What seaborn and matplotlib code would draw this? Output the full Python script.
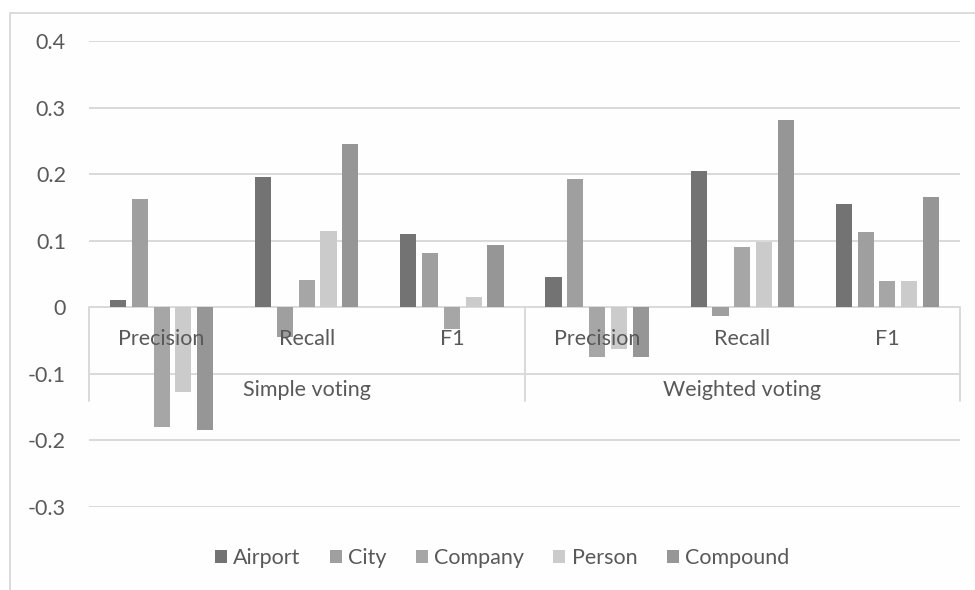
import numpy as np
import pandas as pd
import matplotlib
matplotlib.use("Agg")
import matplotlib.pyplot as plt
import matplotlib.transforms as mtransforms
from matplotlib.patches import Rectangle
import seaborn as sns

# Voting schemes and metrics (two-level category axis)
groups = ["Simple voting", "Weighted voting"]
metrics = ["Precision", "Recall", "F1"]
entities = ["Airport", "City", "Company", "Person", "Compound"]

# Change per entity type, ordered Simple P/R/F1 then Weighted P/R/F1
airport = [0.011, 0.196, 0.110, 0.045, 0.204, 0.155]
city = [0.163, -0.045, 0.081, 0.192, -0.013, 0.113]
company = [-0.180, 0.041, -0.033, -0.075, 0.090, 0.040]
person = [-0.127, 0.115, 0.016, -0.062, 0.098, 0.040]
compound = [-0.184, 0.245, 0.093, -0.075, 0.282, 0.166]

ytick_values = [-0.3, -0.2, -0.1, 0.0, 0.1, 0.2, 0.3, 0.4]
ytick_labels = ["-0.3", "-0.2", "-0.1", "0", "0.1", "0.2", "0.3", "0.4"]

colors = ["#737373", "#9f9f9f", "#a6a6a6", "#cbcbcb", "#969696"]
text_color = "#595959"
line_color = "#d9d9d9"
fsize = 15.5

slots = [f"{g}|{m}" for g in groups for m in metrics]
series = {"Airport": airport, "City": city, "Company": company,
          "Person": person, "Compound": compound}
rows = []
for ent in entities:
    for slot, v in zip(slots, series[ent]):
        rows.append({"slot": slot, "entity": ent, "value": v})
df = pd.DataFrame(rows)

sns.set_theme(style="white")
plt.rcParams["font.family"] = ["Lato", "DejaVu Sans"]

W, H = 975, 590
fig = plt.figure(figsize=(W / 100, H / 100), dpi=100)
fig.patch.set_facecolor("white")

# chart-area frame
fig.patches.append(Rectangle((10 / W, -0.2), 1.2, 1 - 12.5 / H + 0.2,
                             transform=fig.transFigure, facecolor="#fefefe",
                             edgecolor=line_color, lw=1.3, zorder=-5))

left, right, top, bottom = 89, 960, 41, 507
ax = fig.add_axes([left / W, 1 - bottom / H, (right - left) / W, (bottom - top) / H])
ax.set_facecolor("none")
ax.set_zorder(2)

sns.barplot(data=df, x="slot", y="value", hue="entity", order=slots,
            hue_order=entities, palette=colors, saturation=1, width=0.75,
            gap=0.26, errorbar=None, linewidth=0, ax=ax, zorder=3)

ax.set_xlim(-0.5, len(slots) - 0.5)
ax.set_ylim(-0.3, 0.4)
ax.set_yticks(ytick_values)
ax.set_yticklabels(ytick_labels)
ax.set_xticks([])
ax.set_xlabel("")
ax.set_ylabel("")
ax.tick_params(axis="y", length=0, pad=16.6, labelcolor=text_color, labelsize=fsize)
for s in ax.spines.values():
    s.set_visible(False)
ax.grid(axis="y", color=line_color, lw=1.4)
ax.set_axisbelow(True)

# two-level category labels and their frame
tr = mtransforms.blended_transform_factory(ax.transData, fig.transFigure)
for i, slot in enumerate(slots):
    ax.text(i, 1 - 345 / H, slot.split("|")[1], transform=tr, ha="center",
            va="baseline", color=text_color, fontsize=fsize, zorder=5)
for j, g in enumerate(groups):
    ax.text(j * 3 + 1, 1 - 396 / H, g, transform=tr, ha="center",
            va="baseline", color=text_color, fontsize=fsize, zorder=5)
for xb in [-0.5, 2.5, 5.5]:
    ax.plot([xb, xb], [1 - 307 / H, 1 - 401 / H], transform=tr,
            color=line_color, lw=1.4, clip_on=False, zorder=2)

# legend along the bottom
handles, labels = ax.get_legend_handles_labels()
ax.get_legend().remove()
fig.legend(handles, labels, ncol=5, loc="center",
           bbox_to_anchor=(502 / W, 1 - 558 / H), frameon=False,
           fontsize=fsize, labelcolor=text_color, handlelength=0.56,
           handleheight=0.56, handletextpad=0.3, columnspacing=1.35)

fig.savefig("out.png", dpi=100)
